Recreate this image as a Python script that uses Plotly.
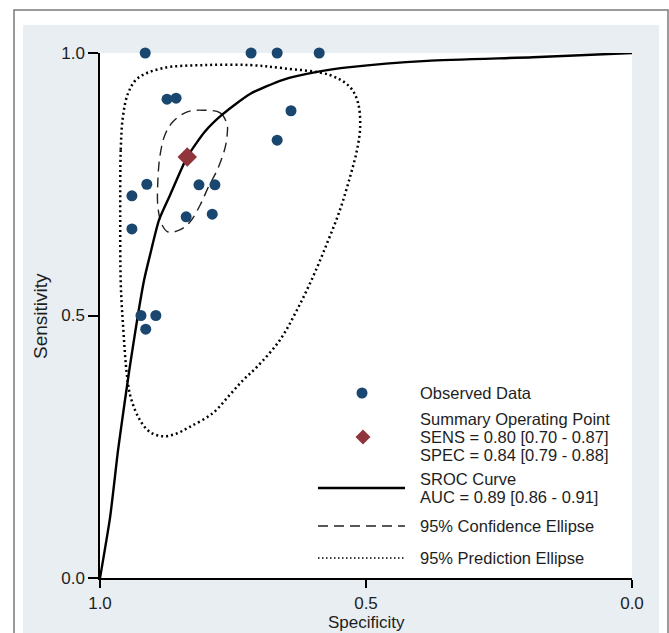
import plotly.graph_objects as go

# ---------------- data ----------------
spec_obs = [0.915, 0.716, 0.667, 0.588, 0.874, 0.857, 0.641, 0.667, 0.912,
            0.940, 0.814, 0.784, 0.838, 0.789, 0.940, 0.923, 0.895, 0.914]
sens_obs = [1.000, 1.000, 1.000, 1.000, 0.912, 0.914, 0.890, 0.834, 0.750,
            0.728, 0.749, 0.749, 0.688, 0.693, 0.665, 0.500, 0.500, 0.474]

summary_spec = [0.836]
summary_sens = [0.802]

sroc_spec = [1.000, 0.981, 0.966, 0.953, 0.944, 0.929, 0.917, 0.906, 0.889,
             0.868, 0.836, 0.803, 0.771, 0.718, 0.656, 0.592, 0.530, 0.385, 0.186, 0.000]
sroc_sens = [0.000, 0.116, 0.244, 0.339, 0.402, 0.499, 0.568, 0.615, 0.682,
             0.730, 0.802, 0.850, 0.882, 0.922, 0.949, 0.964, 0.973, 0.985, 0.992, 1.000]

conf_spec = [0.806, 0.774, 0.761, 0.761, 0.765, 0.778, 0.797, 0.812, 0.831, 0.850,
             0.872, 0.883, 0.891, 0.891, 0.887, 0.878, 0.863, 0.836, 0.806]
conf_sens = [0.891, 0.886, 0.863, 0.844, 0.819, 0.781, 0.743, 0.710, 0.678, 0.663,
             0.659, 0.672, 0.705, 0.762, 0.806, 0.844, 0.869, 0.888, 0.891]

pred_spec = [0.957, 0.961, 0.962, 0.961, 0.957, 0.949, 0.942, 0.925, 0.906, 0.883,
             0.859, 0.831, 0.788, 0.756, 0.731, 0.705, 0.662, 0.630, 0.600, 0.573,
             0.549, 0.530, 0.517, 0.511, 0.515, 0.530, 0.568, 0.656, 0.718, 0.803,
             0.883, 0.929, 0.947, 0.957]
pred_sens = [0.878, 0.815, 0.688, 0.562, 0.486, 0.383, 0.343, 0.301, 0.278, 0.270,
             0.274, 0.288, 0.314, 0.349, 0.377, 0.402, 0.453, 0.510, 0.573, 0.638,
             0.701, 0.764, 0.815, 0.859, 0.905, 0.935, 0.958, 0.971, 0.977, 0.977,
             0.971, 0.952, 0.924, 0.878]

tick_vals = [1.0, 0.5, 0.0]
tick_text = ["1.0", "0.5", "0.0"]

legend_lines = ["Observed Data", "Summary Operating Point",
                "SENS = 0.80 [0.70 - 0.87]", "SPEC = 0.84 [0.79 - 0.88]",
                "SROC Curve", "AUC = 0.89 [0.86 - 0.91]",
                "95% Confidence Ellipse", "95% Prediction Ellipse"]

# ---------------- style ----------------
NAVY = "#1a476f"
MAROON = "#90353b"
BG = "#e8eef1"
FONT = "Liberation Sans, Arial, sans-serif"
TXT = "#1e1e1e"

W, H = 669, 633
L, R, T, B = 100, 37, 53, 55
PW, PH = W - L - R, H - T - B


def px(x):
    return (x - L) / PW


def py(y):
    return (H - B - y) / PH


fig = go.Figure()

fig.add_trace(go.Scatter(x=pred_spec, y=pred_sens, mode="lines",
                         line=dict(color="black", width=2.5, dash="2px,3px", shape="spline"),
                         hoverinfo="skip", showlegend=False, cliponaxis=False))
fig.add_trace(go.Scatter(x=conf_spec, y=conf_sens, mode="lines",
                         line=dict(color="#222", width=1.4, dash="10px,6px", shape="spline"),
                         hoverinfo="skip", showlegend=False, cliponaxis=False))
fig.add_trace(go.Scatter(x=sroc_spec, y=sroc_sens, mode="lines",
                         line=dict(color="black", width=2.4, shape="spline", smoothing=0.6),
                         hoverinfo="skip", showlegend=False, cliponaxis=False))
fig.add_trace(go.Scatter(x=spec_obs, y=sens_obs, mode="markers",
                         marker=dict(color=NAVY, size=11, symbol="circle"),
                         showlegend=False, cliponaxis=False))
fig.add_trace(go.Scatter(x=summary_spec, y=summary_sens, mode="markers",
                         marker=dict(color=MAROON, size=15, symbol="diamond"),
                         showlegend=False, cliponaxis=False))

shapes = [
    # light graph region
    dict(type="rect", xref="paper", yref="paper", layer="below",
         x0=px(23), x1=px(659), y0=py(660), y1=py(25),
         fillcolor=BG, line=dict(width=0)),
    # white plot region
    dict(type="rect", xref="paper", yref="paper", layer="below",
         x0=0, x1=1, y0=0, y1=1, fillcolor="white", line=dict(width=0)),
    # outer border
    dict(type="rect", xref="paper", yref="paper", layer="below",
         x0=px(14), x1=px(668), y0=py(660), y1=py(10),
         fillcolor="rgba(0,0,0,0)", line=dict(color="#7a7a7a", width=1.5)),
    # legend glyphs
    dict(type="circle", xref="paper", yref="paper", xsizemode="pixel", ysizemode="pixel",
         xanchor=px(362), yanchor=py(393), x0=-5.5, x1=5.5, y0=-5.5, y1=5.5,
         fillcolor=NAVY, line=dict(width=0)),
    dict(type="path", xref="paper", yref="paper", xsizemode="pixel", ysizemode="pixel",
         xanchor=px(363), yanchor=py(437), path="M -7.5,0 L 0,7.5 L 7.5,0 L 0,-7.5 Z",
         fillcolor=MAROON, line=dict(width=0)),
    dict(type="line", xref="paper", yref="paper", x0=px(318), x1=px(405),
         y0=py(488), y1=py(488), line=dict(color="black", width=2.4)),
    dict(type="line", xref="paper", yref="paper", x0=px(318), x1=px(405),
         y0=py(526), y1=py(526), line=dict(color="#222", width=1.4, dash="10px,6px")),
    dict(type="line", xref="paper", yref="paper", x0=px(318), x1=px(405),
         y0=py(558), y1=py(558), line=dict(color="black", width=1.6, dash="1.5px,2.5px")),
]

legend_y = [393, 419, 437, 455, 479, 497, 526, 558]
annotations = []
for txt, yy in zip(legend_lines, legend_y):
    annotations.append(dict(text=txt, xref="paper", yref="paper", x=px(418), y=py(yy),
                            xanchor="left", yanchor="middle", showarrow=False,
                            font=dict(family=FONT, size=16.5, color=TXT)))

annotations.append(dict(text="Specificity", xref="paper", yref="paper", x=0.5, y=py(622),
                        xanchor="center", yanchor="middle", showarrow=False,
                        font=dict(family=FONT, size=17, color=TXT)))
annotations.append(dict(text="Sensitivity", xref="paper", yref="paper", x=px(40), y=py(316),
                        xanchor="center", yanchor="middle", showarrow=False, textangle=-90,
                        font=dict(family=FONT, size=19, color=TXT)))

axis_common = dict(showgrid=False, zeroline=False, showline=True, linecolor="black",
                   linewidth=1.5, ticks="outside", tickwidth=1.5, tickcolor="black",
                   tickvals=tick_vals, ticktext=tick_text,
                   tickfont=dict(family=FONT, size=17, color=TXT))

fig.update_layout(
    width=W, height=H,
    margin=dict(l=L, r=R, t=T, b=B),
    paper_bgcolor="white", plot_bgcolor="white",
    xaxis=dict(range=[1, 0], ticklen=8, ticklabelstandoff=1, **axis_common),
    yaxis=dict(range=[0, 1], ticklen=10, **axis_common),
    shapes=shapes, annotations=annotations,
    showlegend=False,
)

fig.write_html("out.html", config={"displayModeBar": False},
               post_script="document.body.style.margin='0px';")
